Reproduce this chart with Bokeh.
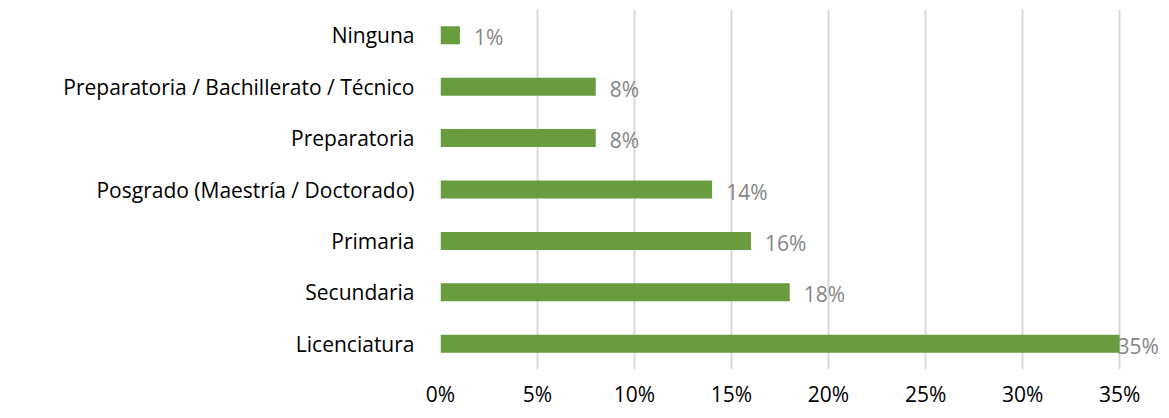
from bokeh.plotting import figure
from bokeh.models import ColumnDataSource, FactorRange, FixedTicker, Range1d
from bokeh.core.properties import value
from bokeh.embed import file_html
from bokeh.resources import INLINE

categories = ["Ninguna", "Preparatoria / Bachillerato / Técnico", "Preparatoria",
              "Posgrado (Maestría / Doctorado)", "Primaria", "Secundaria", "Licenciatura"]
values = [1, 8, 8, 14, 16, 18, 35]
labels = ["1%", "8%", "8%", "14%", "16%", "18%", "35%"]
tick_values = [0, 5, 10, 15, 20, 25, 30, 35]
tick_labels = ["0%", "5%", "10%", "15%", "20%", "25%", "30%", "35%"]

FONT = "Open Sans"
xmax = max(tick_values)

offsets = [14 if v < xmax - 1 else -2 for v in values]
src = ColumnDataSource(dict(cat=categories, val=values, lab=labels, off=offsets))

p = figure(width=1161, height=410, output_backend="svg", toolbar_location=None,
           y_range=FactorRange(factors=categories[::-1], range_padding=0),
           x_range=Range1d(0, 37.16),
           min_border_left=440, min_border_right=0, min_border_top=9, min_border_bottom=40)
p.outline_line_color = None
p.background_fill_color = "white"
p.border_fill_color = "white"

p.hbar(y="cat", right="val", left=0, height=0.35, source=src,
       fill_color="#689c3f", line_color=None)
p.text(x="val", y="cat", text="lab", source=src, x_offset="off", y_offset=2,
       text_font=value(FONT), text_font_size="21px", text_color="#868686",
       text_baseline="middle", text_align="left")

for ax in (p.xaxis, p.yaxis):
    ax.axis_line_color = None
    ax.major_tick_line_color = None
    ax.minor_tick_line_color = None
    ax.major_tick_out = 0
    ax.major_tick_in = 0
    ax.minor_tick_out = 0
    ax.major_label_text_font = FONT
    ax.major_label_text_font_size = "21px"
    ax.major_label_text_color = "#000000"

p.xaxis.ticker = FixedTicker(ticks=tick_values)
p.xaxis.major_label_overrides = {t: l for t, l in zip(tick_values, tick_labels)}
p.xaxis.major_label_standoff = 10
p.yaxis.major_label_standoff = 26

p.ygrid.grid_line_color = None
p.xgrid.grid_line_color = "#d9d9d9"
p.xgrid.grid_line_width = 2

open("out.html", "w").write(file_html(p, INLINE))
